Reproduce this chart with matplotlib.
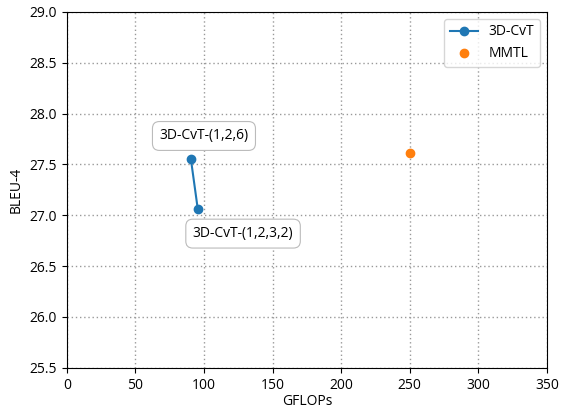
import numpy as np
import matplotlib.pyplot as plt

plt.rcParams['font.family'] = ['Open Sans', 'DejaVu Sans']

cvt_gflops = [90.5, 95.5]
cvt_bleu = [27.55, 27.06]
cvt_labels = ["3D-CvT-(1,2,6)", "3D-CvT-(1,2,3,2)"]
mmtl_gflops = [250]
mmtl_bleu = [27.61]

fig = plt.figure(figsize=(5.61, 4.11), dpi=100)
ax = fig.add_axes([0.119, 0.105, 0.856, 0.866])
ax.plot(cvt_gflops, cvt_bleu, "-o", color="tab:blue", label="3D-CvT")
ax.plot(mmtl_gflops, mmtl_bleu, "o", color="tab:orange", label="MMTL")

box = dict(boxstyle="round,pad=0.5", fc="white", ec="#bbbbbb", lw=0.8)
ax.annotate(cvt_labels[0], (cvt_gflops[0], cvt_bleu[0]), xytext=(100, 27.78),
            ha="center", va="center", fontsize=10, bbox=box)
ax.annotate(cvt_labels[1], (cvt_gflops[1], cvt_bleu[1]), xytext=(128.5, 26.82),
            ha="center", va="center", fontsize=10, bbox=box)

ax.set_xlim(0, 350)
ax.set_ylim(25.5, 29.0)
ax.set_xticks(np.arange(0, 351, 50))
ax.set_yticks(np.arange(25.5, 29.01, 0.5))
ax.set_xlabel("GFLOPs", labelpad=1)
ax.set_ylabel("BLEU-4")
ax.grid(True, linestyle=(0, (1, 2)), color="#999999", linewidth=1)
ax.legend(loc="upper right")
plt.savefig("out.png")
